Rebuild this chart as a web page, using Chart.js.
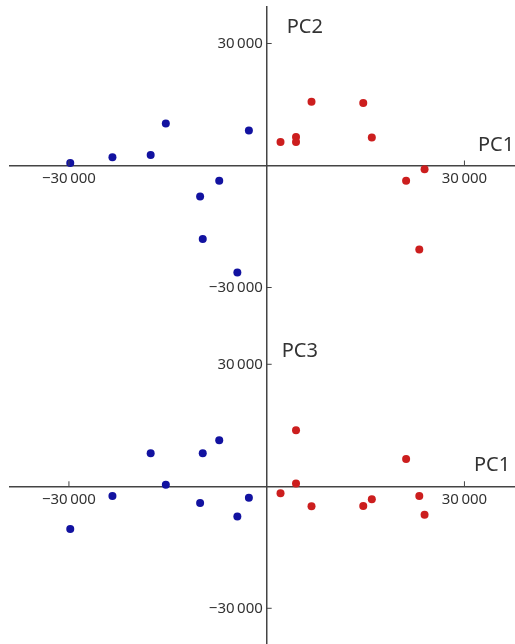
<!DOCTYPE html>
<html>
<head>
<meta charset="utf-8">
<script src="https://cdn.jsdelivr.net/npm/chart.js@4"></script>
<style>
  body { margin: 0; background: #fff; }
  #top, #bottom { position: absolute; left: 0; }
  #top { top: 0; }
  #bottom { top: 326px; }
</style>
</head>
<body>
<canvas id="top" width="515" height="326"></canvas>
<canvas id="bottom" width="515" height="318"></canvas>
<script>
// PCA scores
const pc1Blue = [-29800, -23400, -17600, -15300, -2700, -7200, -10100, -9700, -4450];
const pc2Blue = [600, 2000, 2600, 10300, 8600, -3750, -7600, -18100, -26300];
const pc3Blue = [-10500, -2400, 8100, 400, -2800, 11300, -4100, 8100, -7400];

const pc1Red = [2100, 4450, 4450, 6800, 14650, 15950, 21150, 23950, 23150];
const pc2Red = [5750, 7000, 5750, 15650, 15350, 6900, -3750, -900, -20650];
const pc3Red = [-1700, 13800, 700, -4900, -4850, -3200, 6700, -7000, -2400];

const tickValues = [-30000, 30000];

const blue = '#1212a0';
const red = '#cc1e1e';
const axisColor = '#444';
const textColor = '#333';

function fmt(v) {
  const s = String(Math.abs(v)).replace(/\B(?=(\d{3})+(?!\d))/g, '\u2009');
  return (v < 0 ? '\u2212' : '') + s;
}

function pts(xs, ys) {
  return xs.map((x, i) => ({x: x, y: ys[i]}));
}

// small tick marks on the inside and the PC titles
const axisDecor = {
  id: 'axisDecor',
  afterDraw(chart, args, opts) {
    const {ctx, scales: {x, y}} = chart;
    const x0 = x.getPixelForValue(0), y0 = y.getPixelForValue(0);
    ctx.save();
    ctx.strokeStyle = axisColor;
    ctx.lineWidth = 1;
    tickValues.forEach(v => {
      const px = x.getPixelForValue(v);
      ctx.beginPath(); ctx.moveTo(px, y0); ctx.lineTo(px, y0 - 5); ctx.stroke();
      const py = y.getPixelForValue(v);
      ctx.beginPath(); ctx.moveTo(x0, py); ctx.lineTo(x0 + 5, py); ctx.stroke();
    });
    ctx.fillStyle = textColor;
    ctx.font = '20px "Noto Sans"';
    ctx.textAlign = 'left';
    ctx.textBaseline = 'alphabetic';
    ctx.fillText(opts.yTitle, x0 + opts.yDx, y.getPixelForValue(30000) - opts.yDy);
    ctx.fillText('PC1', opts.xLeft, y0 - 15);
    ctx.restore();
  }
};

// axes through the origin should take no room in the layout
function noRoom(s) {
  if (s.isHorizontal()) s.height = 0; else s.width = 0;
  s.paddingLeft = s.paddingRight = s.paddingTop = s.paddingBottom = 0;
}

function makeChart(id, ys1, ys2, yMin, yMax, pad, decor) {
  return new Chart(document.getElementById(id).getContext('2d'), {
    type: 'scatter',
    data: {
      datasets: [
        {data: pts(pc1Blue, ys1), backgroundColor: blue, borderWidth: 0, pointRadius: 4},
        {data: pts(pc1Red, ys2), backgroundColor: red, borderWidth: 0, pointRadius: 4}
      ]
    },
    options: {
      responsive: false,
      animation: false,
      layout: {padding: pad, autoPadding: false},
      plugins: {legend: {display: false}, tooltip: {enabled: false}, axisDecor: decor},
      scales: {
        x: {
          type: 'linear', min: -38940, max: 37670,
          position: {y: 0},
          afterBuildTicks: s => { s.ticks = tickValues.map(v => ({value: v})); },
          afterFit: noRoom,
          grid: {display: false, drawTicks: false},
          border: {color: axisColor, width: 1.5},
          ticks: {padding: 4, color: textColor, font: {family: 'Noto Sans', size: 15}, callback: v => fmt(v)}
        },
        y: {
          type: 'linear', min: yMin, max: yMax,
          position: {x: 0},
          afterBuildTicks: s => { s.ticks = tickValues.map(v => ({value: v})); },
          afterFit: noRoom,
          grid: {display: false, drawTicks: false},
          border: {color: axisColor, width: 1.5},
          ticks: {color: textColor, font: {family: 'Noto Sans', size: 15}, callback: v => fmt(v) + ' '}
        }
      }
    },
    plugins: [axisDecor]
  });
}

makeChart('top', pc2Blue, pc2Red, -39220, 38975,
  {left: 10, right: 0, top: 7, bottom: 1},
  {yTitle: 'PC2', yDx: 20, yDy: 10, xLeft: 478});
makeChart('bottom', pc3Blue, pc3Red, -38780, 39170,
  {left: 10, right: 0, top: 1, bottom: 0},
  {yTitle: 'PC3', yDx: 15, yDy: 7, xLeft: 474});
</script>
</body>
</html>
